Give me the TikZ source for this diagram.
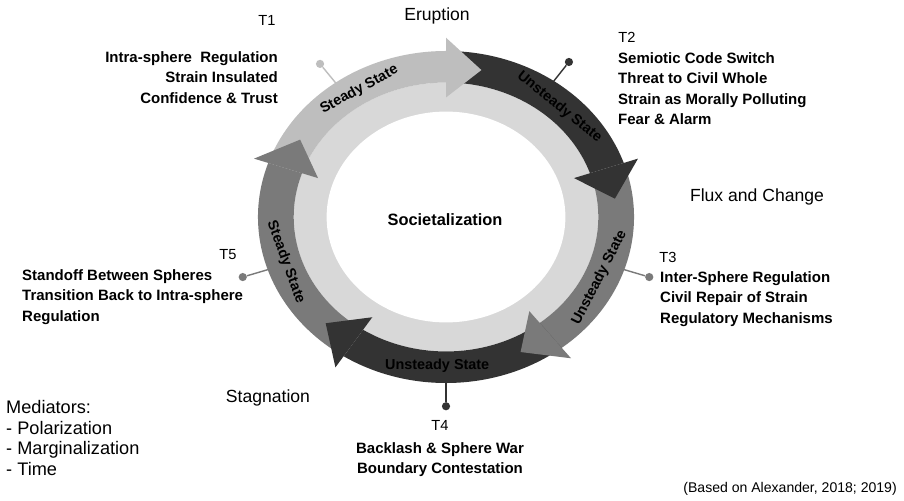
\documentclass[tikz,border=0pt]{standalone}
\usepackage{fontspec}
\setmainfont{Liberation Sans}
\usepackage{tikz}
\tikzset{every picture/.append style={font=\fontsize{12.6}{17.5}\selectfont}}
\definecolor{ringlight}{HTML}{D8D8D8}
\definecolor{bandlight}{HTML}{BEBEBE}
\definecolor{bandmid}{HTML}{7A7A7A}
\definecolor{banddark}{HTML}{333333}
\tikzset{
  pinline/.style={line width=1.2pt},
  pindot/.style={circle,inner sep=0pt,minimum size=7pt},
  bandlabel/.style={font=\bfseries\fontsize{12.3}{13}\selectfont,inner sep=0pt},
  info/.style={font=\bfseries\fontsize{12.8}{17.5}\selectfont,inner sep=0pt},
  tag/.style={font=\fontsize{12.5}{14}\selectfont,inner sep=0pt},
  phase/.style={font=\fontsize{15}{18}\selectfont,inner sep=0pt},
}

\begin{document}
\begin{tikzpicture}[x=0.03cm,y=0.03cm]
    \fill[white] (0,0) rectangle (904,500);
    \useasboundingbox (0,0) rectangle (904,500);
    \begin{scope}[shift={(446,283)},x=5.64cm,y=4.98cm]
      \fill[ringlight] (0,0) circle[radius=0.81];
      \fill[white] (0,0) circle[radius=0.635];
      % band bodies, clockwise
      \foreach \a/\b/\c in {161/90/bandlight, 90/19/banddark, 19/-52/bandmid, -52/-123/banddark, -123/-199/bandmid}
        \fill[\c] (\a:1) arc[start angle=\a, end angle=\b, radius=1] -- (\b:0.81)
          arc[start angle=\b, end angle=\a, radius=0.81] -- cycle;
      % arrow heads on top
      \foreach \b/\t/\c in {90/78/bandlight, 19/7/banddark, -52/-64/bandmid, -123/-135/banddark, -199/-211/bandmid}
        \fill[\c] (\b:1.08) -- (\t:0.905) -- (\b:0.72) -- cycle;
      \node[bandlabel,rotate=29] (s1) at (121:0.895) {Steady State};
      \node[bandlabel,rotate=-39] (s2) at (47.6:0.895) {Unsteady State};
      \node[bandlabel,rotate=63] (s3) at (-24.2:0.895) {Unsteady State};
      \node[bandlabel] (s4) at (-93:0.895) {Unsteady State};
      \node[bandlabel,rotate=-70] (s5) at (197.7:0.895) {Steady State};
      % pins
      \foreach \n/\a/\c in {1/126/bandlight, 2/55/banddark, 3/-18.5/bandmid, 4/-90/banddark, 5/198.5/bandmid} {
        \coordinate (p\n) at (\a:0.99);
        \node[pindot,fill=\c] (d\n) at (\a:1.14) {};
        \draw[pinline,\c] (p\n) -- (d\n);
      }
    \end{scope}
    \node[font=\bfseries\fontsize{14}{16}\selectfont] (soc) at (445,280) {Societalization};
    \node[phase] (erupt) at (437,484) {Eruption};
    \node[phase] (flux) at (757,303) {Flux and Change};
    \node[phase] (stag) at (268,102) {Stagnation};
    \node[tag] (t1) at (267,480) {T1};
    \node[info,align=right,anchor=north east] (t1text) at (278,449) {Intra-sphere\ \ Regulation\\Strain Insulated\\Confidence \& Trust};
    \node[tag] (t2) at (627,463) {T2};
    \node[info,align=left,anchor=north west] (t2text) at (618,448) {Semiotic Code Switch\\Threat to Civil Whole\\Strain as Morally Polluting\\Fear \& Alarm};
    \node[tag] (t3) at (668,243) {T3};
    \node[info,align=left,anchor=north west] (t3text) at (660,229) {Inter-Sphere Regulation\\Civil Repair of Strain\\Regulatory Mechanisms};
    \node[tag] (t4) at (440,75) {T4};
    \node[info,align=center,anchor=north] (t4text) at (440,58) {Backlash \& Sphere War\\Boundary Contestation};
    \node[tag] (t5) at (228,245) {T5};
    \node[info,align=left,anchor=north west] (t5text) at (22,231) {Standoff Between Spheres\\Transition Back to Intra-sphere\\Regulation};
    \node[font=\fontsize{15.5}{17.6}\selectfont,align=left,anchor=north west,inner sep=0pt] (med) at (6,100) {Mediators:\\- Polarization\\- Marginalization\\- Time};
    \node[font=\fontsize{12}{14}\selectfont,anchor=east,inner sep=0pt] (src) at (897,11) {(Based on Alexander, 2018; 2019)};
\end{tikzpicture}
\end{document}
